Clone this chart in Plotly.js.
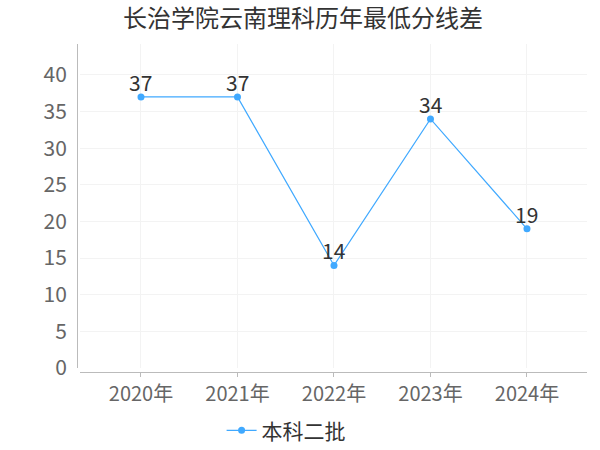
<!DOCTYPE html>
<html><head><meta charset="utf-8">
<script src="https://cdn.plot.ly/plotly-3.0.1.min.js"></script>
<style>body{margin:0}#c{width:600px;height:450px}</style>
</head><body><div id="c"></div>
<script>
const categories = ["2020年","2021年","2022年","2023年","2024年"];
const values = [37, 37, 14, 34, 19];
const seriesName = "本科二批";
const yTicks = [0,5,10,15,20,25,30,35,40];

const font = "Noto Sans CJK SC, sans-serif";
const color = "#40a9ff";
const labels = categories.map((c, i) => ({
  x: c, y: values[i], xref: "x", yref: "y", text: String(values[i]),
  showarrow: false, yanchor: "bottom", xanchor: "center", yshift: -2,
  font: {size: 21, color: "#333", family: font}
}));

Plotly.newPlot("c", [{
  type: "scatter", mode: "lines+markers",
  x: categories, y: values, name: seriesName,
  line: {color: color, width: 1.2},
  marker: {color: color, size: 7},
  cliponaxis: false
}], {
  width: 600, height: 450,
  margin: {l: 77, r: 13, t: 44, b: 78},
  paper_bgcolor: "#fff", plot_bgcolor: "#fff",
  title: {text: "长治学院云南理科历年最低分线差", x: 0.505, xanchor: "center", y: 0.958, yanchor: "middle",
          font: {size: 24, color: "#333", family: font}},
  xaxis: {type: "category", range: [-0.632, 4.622], domain: [0.0059, 1],
          anchor: "free", position: 0,
          showgrid: true, gridcolor: "#f3f3f3",
          showline: true, linecolor: "#bbb", linewidth: 1, ticks: "outside", ticklen: 4, tickcolor: "#bbb",
          zeroline: false,
          tickfont: {size: 20, color: "#666", family: font}},
  yaxis: {range: [0, 44.23], domain: [0.0122, 1], anchor: "free", position: 0,
          tickvals: yTicks, showgrid: true, gridcolor: "#f3f3f3",
          showline: true, linecolor: "#bbb", linewidth: 1, zeroline: false, ticks: "",
          ticklabelstandoff: 6,
          tickfont: {size: 21, color: "#666", family: font}},
  annotations: labels,
  showlegend: true,
  legend: {orientation: "h", x: 0.41, xanchor: "center", yref: "container", y: 0.043, yanchor: "middle",
           font: {size: 21, color: "#333", family: font}}
}, {displayModeBar: false});
</script></body></html>
